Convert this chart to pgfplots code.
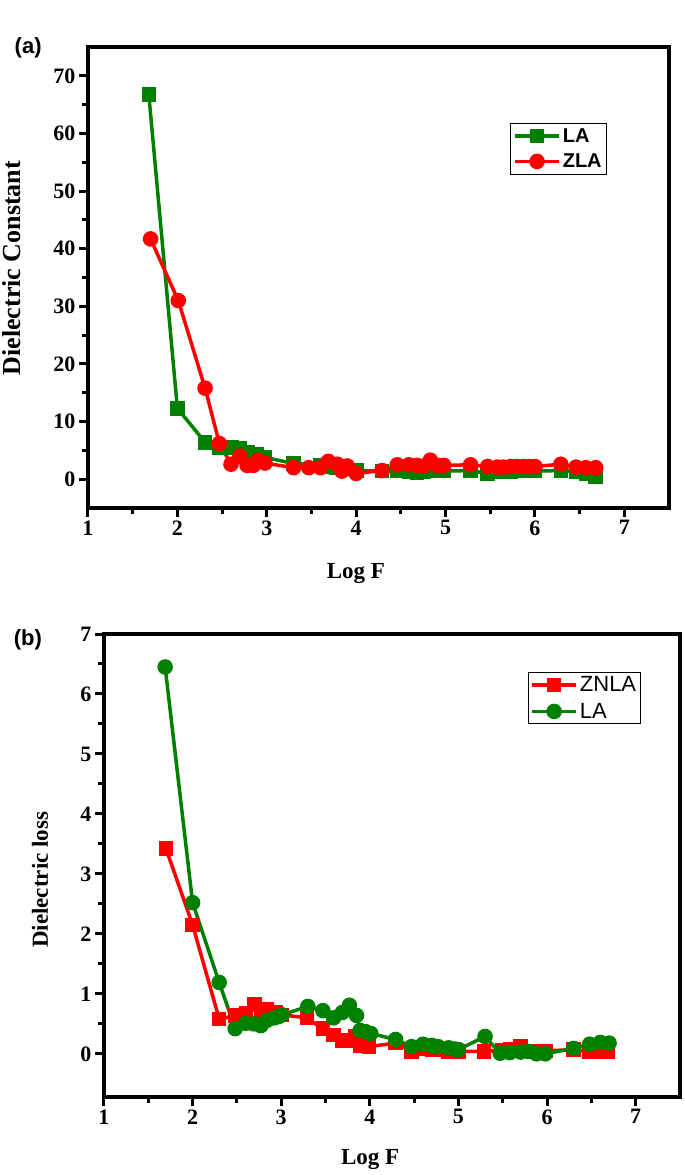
\documentclass[border=0pt]{standalone}
\usepackage{fontspec}
\setmainfont{Liberation Serif}
\newfontfamily\arial{Liberation Sans}
\usepackage{pgfplots}
\pgfplotsset{compat=1.18}
\definecolor{lagreen}{RGB}{0,128,0}
\definecolor{lared}{RGB}{255,0,0}

% shared look of both panels
\pgfplotsset{
  dielectric/.style={
    scale only axis, clip=false,
    xmin=1, xmax=7.5, xtick={1,...,7}, minor x tick num=1,
    axis line style={line width=4pt},
    tick style={line width=3pt, black},
    major tick length=9pt, minor tick length=6pt,
    tick align=outside, xtick pos=bottom, ytick pos=left,
    /pgf/number format/assume math mode=true,
    tick label style={font=\fontsize{22}{22}\selectfont\bfseries},
    label style={font=\fontsize{23}{23}\selectfont\bfseries},
    legend cell align=left,
    legend image code/.code={\draw[mark repeat=2,mark phase=2,##1] plot coordinates {(0pt,0pt) (22pt,0pt) (44pt,0pt)};},
  }
}

\begin{document}
\begin{tikzpicture}
\path[use as bounding box] (0pt,0pt) rectangle (685pt,-1175pt);

% (a) dielectric constant
\begin{axis}[dielectric,
  at={(88pt,-508pt)}, anchor=south west,
  width=581pt, height=461pt,
  ymin=-5, ymax=75, ytick={0,10,...,70}, minor y tick num=1,
  xlabel={Log F}, ylabel={Dielectric Constant},
  xlabel style={at={(axis description cs:0.461,-0.141)}, anchor=center},
  ylabel style={at={(axis description cs:-0.131,0.52)}, anchor=center, font=\fontsize{26}{26}\selectfont\bfseries},
  legend style={at={(axis description cs:0.726,0.835)}, anchor=north west,
    draw=black, line width=1pt, font=\arial\bfseries\fontsize{20}{22}\selectfont,
    inner sep=3pt, row sep=6pt},
]
\addplot[color=lagreen, line width=3.5pt, mark=square*, mark size=5.5pt, mark options={solid}] coordinates {
(1.68,66.8) (2.00,12.3) (2.31,6.4) (2.47,5.5) (2.61,5.5) (2.70,5.3) (2.79,4.7)
(2.89,4.3) (2.98,3.8) (3.30,2.7) (3.60,2.5) (3.73,2.2) (3.78,2.0) (3.90,1.8)
(4.01,1.5) (4.29,1.4) (4.46,1.4) (4.59,1.3) (4.68,1.2) (4.76,1.3) (4.83,1.4)
(4.91,1.4) (4.98,1.4) (5.28,1.5) (5.47,1.0) (5.58,1.3) (5.65,1.3) (5.73,1.3)
(5.80,1.4) (5.87,1.4) (5.94,1.4) (6.00,1.4) (6.29,1.5) (6.46,1.3) (6.57,0.9)
(6.68,0.4)};
\addlegendentry{LA}
\addplot[color=lared, line width=3.5pt, mark=*, mark size=6pt, mark options={solid}] coordinates {
(1.70,41.7) (2.01,31.0) (2.31,15.8) (2.47,6.2) (2.60,2.6) (2.70,4.0) (2.78,2.4)
(2.85,2.4) (2.90,3.3) (2.98,2.8) (3.30,2.0) (3.47,2.0) (3.60,2.0) (3.69,3.1)
(3.79,2.6) (3.84,1.4) (3.90,2.3) (4.00,1.0) (4.29,1.5) (4.46,2.5) (4.59,2.5)
(4.68,2.4) (4.76,2.3) (4.83,3.3) (4.91,2.4) (4.98,2.4) (5.28,2.5) (5.47,2.2)
(5.58,2.1) (5.65,2.1) (5.73,2.2) (5.80,2.2) (5.87,2.2) (5.94,2.2) (6.00,2.2)
(6.29,2.6) (6.46,2.1) (6.57,2.0) (6.68,2.0)};
\addlegendentry{ZLA}
\node[font=\arial\bfseries\fontsize{22}{22}\selectfont] at (axis description cs:-0.103,0.998) {(a)};
\end{axis}

% (b) dielectric loss
\begin{axis}[dielectric,
  at={(104pt,-1097pt)}, anchor=south west,
  width=576pt, height=463pt,
  ymin=-0.72, ymax=7, ytick={0,...,7}, minor y tick num=1,
  xlabel={Log F}, ylabel={Dielectric loss},
  xlabel style={at={(axis description cs:0.462,-0.136)}, anchor=center},
  ylabel style={at={(axis description cs:-0.111,0.469)}, anchor=center},
  legend style={at={(axis description cs:0.736,0.918)}, anchor=north west,
    draw=black, line width=1pt, font=\arial\fontsize{22}{24}\selectfont,
    inner sep=2pt, row sep=6pt},
]
\addplot[color=lared, line width=3.5pt, mark=square*, mark size=5.5pt, mark options={solid}] coordinates {
(1.70,3.42) (2.00,2.15) (2.30,0.58) (2.48,0.64) (2.60,0.67) (2.70,0.82) (2.77,0.60)
(2.84,0.75) (2.94,0.69) (3.01,0.65) (3.29,0.60) (3.47,0.42) (3.59,0.31) (3.69,0.21)
(3.76,0.22) (3.84,0.29) (3.89,0.13) (3.99,0.12) (4.29,0.18) (4.47,0.04) (4.59,0.08)
(4.70,0.07) (4.79,0.06) (4.89,0.04) (4.96,0.04) (5.00,0.04) (5.29,0.04) (5.49,0.06)
(5.58,0.08) (5.70,0.13) (5.81,0.05) (5.88,0.05) (5.98,0.05) (6.30,0.07) (6.48,0.03)
(6.60,0.03) (6.69,0.03)};
\addlegendentry{ZNLA}
\addplot[color=lagreen, line width=3.5pt, mark=*, mark size=6pt, mark options={solid}] coordinates {
(1.69,6.45) (2.00,2.52) (2.30,1.19) (2.48,0.42) (2.60,0.51) (2.69,0.50) (2.77,0.47)
(2.84,0.56) (2.92,0.60) (2.97,0.62) (3.01,0.65) (3.30,0.79) (3.47,0.72) (3.59,0.60)
(3.69,0.69) (3.77,0.81) (3.85,0.64) (3.89,0.39) (3.95,0.37) (4.01,0.34) (4.29,0.24)
(4.47,0.12) (4.60,0.16) (4.70,0.14) (4.77,0.12) (4.89,0.10) (4.96,0.08) (5.00,0.07)
(5.30,0.29) (5.47,0.01) (5.58,0.02) (5.70,0.03) (5.79,0.04) (5.88,0.00) (5.98,0.00)
(6.30,0.09) (6.48,0.16) (6.60,0.19) (6.70,0.18)};
\addlegendentry{LA}
\node[font=\arial\bfseries\fontsize{22}{22}\selectfont] at (axis description cs:-0.132,0.987) {(b)};
\end{axis}
\end{tikzpicture}
\end{document}
